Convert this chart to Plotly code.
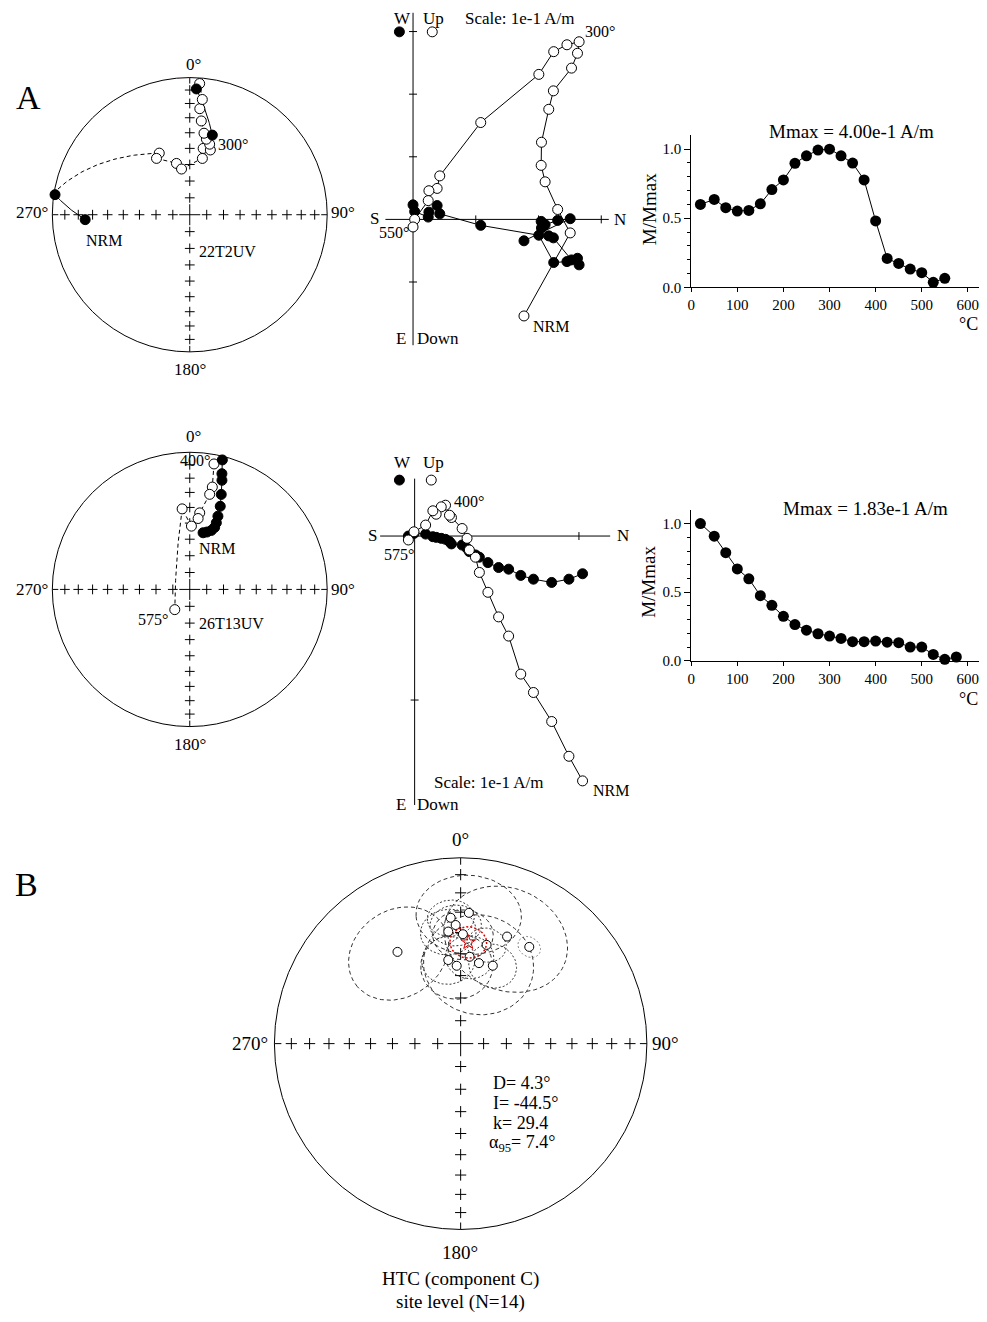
import math
import numpy as np
import plotly.graph_objects as go

# page is 987x1322; the html body keeps an 8px margin, so the figure is 16px smaller
PAGE_W, PAGE_H = 987, 1322
OFF = 8
FW, FH = PAGE_W - 2 * OFF, PAGE_H - 2 * OFF
SERIF = "Liberation Serif, Times New Roman, serif"

# ======================= DATA =======================
# ---- Panel A, specimen 22T2UV : directions (declination, inclination in deg)
a1_dec = [267.3, 278.5, 333.7, 329.5, 345.5, 349.8, 12.6, 11.4, 17.6, 15.7, 12.4, 9.9,
          7.0, 5.4, 6.2, 4.3, 3.0, 15.8]
a1_inc = [24.8, 1.0, -48.5, -50.6, -58.3, -62.3, -55.4, -49.2, -49.0, -45.6, -43.0, -39.5,
          -31.7, -23.4, -16.6, -4.6, 9.0, 39.5]
a1_name = "22T2UV"
# ---- 22T2UV : orthogonal vector components (A/m)
a1_north = [0.1768, 0.2505, 0.2305, 0.2105, 0.2042, 0.2047, 0.2163, 0.2237, 0.2526, 0.2621, 0.2647,
            0.2453, 0.2242, 0.2005, 0.1079, 0.0426, 0.0384, 0.0253, 0.0242, 0.0026, 0.0000]
a1_up = [-0.1542, -0.0216, 0.0158, 0.0600, 0.0863, 0.1232, 0.1758, 0.2053, 0.2416, 0.2653, 0.2837,
         0.2789, 0.2679, 0.2316, 0.1547, 0.0695, 0.0495, 0.0458, 0.0300, 0.0000, -0.0121]
a1_west = [-0.0342, 0.0011, -0.0016, -0.0084, -0.0032, -0.0137, -0.0263, -0.0295, -0.0647, -0.0621, -0.0726,
           -0.0674, -0.0689, -0.0253, -0.0095, 0.0089, 0.0221, 0.0116, 0.0037, 0.0126, 0.0232]
# ---- 22T2UV : thermal demagnetisation
a1_temp = [20, 50, 75, 100, 125, 150, 175, 200, 225, 250, 275, 300, 325, 350, 375, 400, 425, 450,
           475, 500, 525, 550]
a1_mnorm = [0.600, 0.636, 0.576, 0.552, 0.556, 0.604, 0.707, 0.777, 0.897, 0.952, 0.993, 1.000, 0.952,
            0.899, 0.777, 0.480, 0.209, 0.173, 0.132, 0.106, 0.036, 0.065]
a1_mmax = "4.00e-1"

# ---- Panel A, specimen 26T13UV : directions
a2_dec = [13.2, 16.7, 20.1, 21.8, 21.7, 21.0, 20.1, 18.3, 16.4, 15.5, 14.1, 10.9, 12.4, 11.8, 7.4,
          6.7, 1.5, 354.6, 216.5]
a2_inc = [55.1, 54.0, 52.2, 49.7, 46.6, 42.3, 35.7, 27.9, 18.2, 13.5, 3.0, -7.6, -24.6, -29.9, -43.1,
          -46.8, -51.9, -40.7, -75.1]
a2_name = "26T13UV"
# ---- 26T13UV : orthogonal vector components (A/m)
a2_north = [0.1022, 0.0939, 0.0834, 0.0723, 0.0646, 0.0572, 0.0511, 0.0446, 0.0394, 0.0370, 0.0333,
            0.0319, 0.0289, 0.0224, 0.0212, 0.0188, 0.0162, 0.0131, 0.0111, 0.0067, -0.0004, -0.0038]
a2_up = [-0.1493, -0.1343, -0.1131, -0.0954, -0.0842, -0.0610, -0.0493, -0.0343, -0.0222, -0.0129, -0.0085,
         -0.0014, 0.0046, 0.0113, 0.0127, 0.0188, 0.0178, 0.0133, 0.0154, 0.0067, 0.0026, -0.0024]
a2_west = [-0.0230, -0.0263, -0.0283, -0.0263, -0.0240, -0.0202, -0.0192, -0.0162, -0.0129, -0.0115, -0.0095,
           -0.0075, -0.0055, -0.0048, -0.0034, -0.0020, -0.0014, -0.0008, -0.0004, 0.0012, 0.0016, 0.0000]
# ---- 26T13UV : thermal demagnetisation
a2_temp = [20, 50, 75, 100, 125, 150, 175, 200, 225, 250, 275, 300, 325, 350, 375, 400, 425, 450,
           475, 500, 525, 550, 575]
a2_mnorm = [1.000, 0.908, 0.788, 0.670, 0.598, 0.475, 0.405, 0.325, 0.265, 0.224, 0.198, 0.181, 0.164,
            0.140, 0.140, 0.145, 0.137, 0.133, 0.101, 0.101, 0.048, 0.012, 0.029]
a2_mmax = "1.83e-1"

# ---- Panel B : HTC (component C) site level
b_dec = [325.5, 355.5, 3.6, 357.6, 353.7, 1.2, 23.4, 14.7, 35.3, 5.9, 351.6, 357.1, 12.8, 22.4]
b_inc = [-39.9, -32.6, -30.2, -36.3, -39.2, -40.8, -37.3, -44.3, -36.4, -51.2, -52.5, -55.5, -53.4, -52.6]
b_a95 = [21, 9, 20, 10, 11, 12, 25, 8, 4.7, 10, 11, 15, 23, 10]
b_mean_dec, b_mean_inc, b_mean_k, b_mean_a95 = 4.3, -44.5, 29.4, 7.4
b_n = 14

# ======================= HELPERS =======================
fig = go.Figure()
layout_axes = {}
shapes = []
annotations = []
count = [0]


def fx(p):
    return (p - OFF) / FW


def fy(p):
    return 1 - (p - OFF) / FH


def new_axes(x0, x1, y0, y1, xr, yr):
    count[0] += 1
    s = "" if count[0] == 1 else str(count[0])
    xa = dict(domain=[max(0, fx(x0)), min(1, fx(x1))], range=xr, anchor="y" + s, visible=False, fixedrange=True)
    ya = dict(domain=[max(0, fy(y1)), min(1, fy(y0))], range=yr, anchor="x" + s, visible=False, fixedrange=True)
    layout_axes["xaxis" + s] = xa
    layout_axes["yaxis" + s] = ya
    return "x" + s, "y" + s, xa, ya


def text(s, x, y, size=17, xanchor="center", yanchor="middle", angle=0, color="black"):
    annotations.append(dict(text=s, x=fx(x), y=fy(y), xref="paper", yref="paper", showarrow=False,
                            xanchor=xanchor, yanchor=yanchor, textangle=angle, borderpad=0,
                            font=dict(size=size, family=SERIF, color=color)))


def eq_r(inc):
    return math.sqrt(2) * math.sin(math.radians(90 - abs(inc)) / 2)


def d2v(d, i):
    d, i = math.radians(d), math.radians(i)
    return np.array([math.cos(i) * math.cos(d), math.cos(i) * math.sin(d), math.sin(i)])


def v2xy(v):
    v = v / np.linalg.norm(v)
    inc = math.degrees(math.asin(max(-1.0, min(1.0, v[2]))))
    dec = math.atan2(v[1], v[0])
    r = eq_r(inc)
    return r * math.sin(dec), r * math.cos(dec), v[2] >= 0


def gc_arc(d1, i1, d2, i2, n=40):
    v1, v2 = d2v(d1, i1), d2v(d2, i2)
    om = math.acos(max(-1.0, min(1.0, float(np.dot(v1, v2)))))
    if om < 1e-6:
        return [v2xy(v1), v2xy(v2)]
    out = []
    for t in np.linspace(0, 1, n):
        v = (math.sin((1 - t) * om) * v1 + math.sin(t * om) * v2) / math.sin(om)
        out.append(v2xy(v))
    return out


def small_circle(d, i, a, n=90):
    v = d2v(d, abs(i))
    k = np.array([0.0, 0.0, 1.0])
    u1 = np.cross(v, k)
    if np.linalg.norm(u1) < 1e-6:
        u1 = np.array([1.0, 0.0, 0.0])
    u1 = u1 / np.linalg.norm(u1)
    u2 = np.cross(v, u1)
    ar = math.radians(a)
    xs, ys = [], []
    for t in np.linspace(0, 2 * math.pi, n):
        p = math.cos(ar) * v + math.sin(ar) * (math.cos(t) * u1 + math.sin(t) * u2)
        x, y, _ = v2xy(p)
        xs.append(x)
        ys.append(y)
    return xs, ys


def stereonet_frame(cx, cy, R, cross=7, ccross=15, tick=6):
    pad = 1.25
    xa, ya, _, _ = new_axes(cx - pad * R, cx + pad * R, cy - pad * R, cy + pad * R, [-pad, pad], [-pad, pad])
    shapes.append(dict(type="circle", xref=xa, yref=ya, x0=-1, x1=1, y0=-1, y1=1, layer="below",
                       line=dict(color="black", width=1)))
    rr = [eq_r(v) for v in range(10, 90, 10)]
    xs = rr + [-r for r in rr] + [0] * len(rr) * 2
    ys = [0] * len(rr) * 2 + rr + [-r for r in rr]
    fig.add_trace(go.Scatter(x=xs, y=ys, xaxis=xa, yaxis=ya, mode="markers", hoverinfo="skip",
                             showlegend=False, marker=dict(symbol="cross-thin", size=cross,
                                                           line=dict(width=1, color="black"))))
    fig.add_trace(go.Scatter(x=[0], y=[0], xaxis=xa, yaxis=ya, mode="markers", hoverinfo="skip",
                             showlegend=False, marker=dict(symbol="cross-thin", size=ccross,
                                                           line=dict(width=1, color="black"))))
    t = tick / R
    for (x0, y0, x1, y1) in [(0, 1, 0, 1 - t), (0, -1, 0, -1 + t), (1, 0, 1 - t, 0), (-1, 0, -1 + t, 0)]:
        shapes.append(dict(type="line", xref=xa, yref=ya, x0=x0, y0=y0, x1=x1, y1=y1, layer="below",
                           line=dict(color="black", width=1)))
    return xa, ya


def stereo_path(xa, ya, dec, inc, ms=10):
    solid_x, solid_y, dash_x, dash_y = [], [], [], []
    for k in range(len(dec) - 1):
        pts = gc_arc(dec[k], inc[k], dec[k + 1], inc[k + 1])
        runs = []
        cur_style, cur = None, []
        for p, q in zip(pts[:-1], pts[1:]):
            style = "solid" if (p[2] and q[2]) else "dash"
            if style != cur_style:
                if cur:
                    runs.append((cur_style, cur))
                cur_style, cur = style, [p, q]
            else:
                cur.append(q)
        if cur:
            runs.append((cur_style, cur))
        for style, run in runs:
            tx = solid_x if style == "solid" else dash_x
            ty = solid_y if style == "solid" else dash_y
            tx.extend([p[0] for p in run] + [None])
            ty.extend([p[1] for p in run] + [None])
    fig.add_trace(go.Scatter(x=solid_x, y=solid_y, xaxis=xa, yaxis=ya, mode="lines", hoverinfo="skip",
                             showlegend=False, line=dict(color="black", width=1)))
    fig.add_trace(go.Scatter(x=dash_x, y=dash_y, xaxis=xa, yaxis=ya, mode="lines", hoverinfo="skip",
                             showlegend=False, line=dict(color="black", width=1, dash="4px,3px")))
    stereo_points(xa, ya, dec, inc, ms)


def stereo_points(xa, ya, dec, inc, ms=10):
    ox, oy, fxs, fys = [], [], [], []
    for d, i in zip(dec, inc):
        r = eq_r(i)
        x, y = r * math.sin(math.radians(d)), r * math.cos(math.radians(d))
        if i < 0:
            ox.append(x)
            oy.append(y)
        else:
            fxs.append(x)
            fys.append(y)
    fig.add_trace(go.Scatter(x=ox, y=oy, xaxis=xa, yaxis=ya, mode="markers", showlegend=False, cliponaxis=False,
                             marker=dict(size=ms, color="white", line=dict(color="black", width=1))))
    fig.add_trace(go.Scatter(x=fxs, y=fys, xaxis=xa, yaxis=ya, mode="markers", showlegend=False, cliponaxis=False,
                             marker=dict(size=ms, color="black", line=dict(color="black", width=1))))


def zijderveld(ox, oy, upx, box, n_ext, v_ext, n_ticks, v_ticks, north, up, west, ms=10):
    x0, x1, y0, y1 = box
    xr = [(x0 - ox) / upx, (x1 - ox) / upx]
    yr = [(oy - y1) / upx, (oy - y0) / upx]
    xa, ya, _, _ = new_axes(x0, x1, y0, y1, xr, yr)
    ln = dict(color="black", width=1)
    shapes.append(dict(type="line", xref=xa, yref=ya, x0=n_ext[0], x1=n_ext[1], y0=0, y1=0, layer="below", line=ln))
    shapes.append(dict(type="line", xref=xa, yref=ya, x0=0, x1=0, y0=v_ext[0], y1=v_ext[1], layer="below", line=ln))
    t = 4 / upx
    for n in n_ticks:
        shapes.append(dict(type="line", xref=xa, yref=ya, x0=n, x1=n, y0=-t, y1=t, layer="below", line=ln))
    for v in v_ticks:
        shapes.append(dict(type="line", xref=xa, yref=ya, x0=-t, x1=t, y0=v, y1=v, layer="below", line=ln))
    fig.add_trace(go.Scatter(x=north, y=west, xaxis=xa, yaxis=ya, mode="lines+markers", showlegend=False,
                             cliponaxis=False, line=dict(color="black", width=1),
                             marker=dict(size=ms, color="black", line=dict(color="black", width=1))))
    fig.add_trace(go.Scatter(x=north, y=up, xaxis=xa, yaxis=ya, mode="lines+markers", showlegend=False,
                             cliponaxis=False, line=dict(color="black", width=1),
                             marker=dict(size=ms, color="white", line=dict(color="black", width=1))))
    return xa, ya


def key_glyph(x, y, filled, r=5):
    shapes.append(dict(type="circle", xref="paper", yref="paper", x0=fx(x - r), x1=fx(x + r),
                       y0=fy(y + r), y1=fy(y - r), fillcolor="black" if filled else "white",
                       line=dict(color="black", width=1), layer="above"))


def demag(zero_py, unit_py, temps, vals):
    x0, x1 = 690, OFF + FW
    ytop = 1.1
    xa, ya, xd, yd = new_axes(x0, x1, zero_py - ytop * unit_py, zero_py, [0, (x1 - x0) / 0.463], [0, ytop])
    common = dict(visible=True, showline=True, linecolor="black", linewidth=1, ticks="outside",
                  tickcolor="black", tickwidth=1, showgrid=False, zeroline=False, ticklabeloverflow="allow",
                  tickfont=dict(size=15, family=SERIF, color="black"))
    xd.update(common)
    xd.update(tickmode="array", tickvals=[0, 100, 200, 300, 400, 500, 600], ticklen=4)
    yd.update(common)
    yd.update(tickmode="array", tickvals=[0, 0.5, 1.0], ticktext=["0.0", "0.5", "1.0"], ticklen=6,
              minor=dict(tickmode="array", tickvals=[0.1, 0.2, 0.3, 0.4, 0.6, 0.7, 0.8, 0.9],
                         ticks="outside", ticklen=3, tickcolor="black", tickwidth=1, showgrid=False))
    fig.add_trace(go.Scatter(x=temps, y=vals, xaxis=xa, yaxis=ya, mode="lines+markers", showlegend=False,
                             cliponaxis=False, line=dict(color="black", width=1),
                             marker=dict(size=11, color="black")))


# ======================= PANEL A : row 1 =======================
text("A", 25, 98, size=34)
xa, ya = stereonet_frame(186.5, 216, 138)
stereo_path(xa, ya, a1_dec, a1_inc, ms=10)
text("0°", 190, 65)
text("270°", 28, 214)
text("90°", 340, 214)
text("180°", 187, 372)
text("NRM", 100, 242, size=16)
text("300°", 230, 145, size=16)
text(a1_name, 224, 253, size=16)

zijderveld(410.7, 220.7, 630, (372, 630, 10, 352), (-0.044, 0.312), (-0.201, 0.33),
           [0.1, 0.2, 0.3], [-0.1, 0.1, 0.2, 0.3], a1_north, a1_up, a1_west)
key_glyph(397, 32, True)
key_glyph(430, 32, False)
text("W", 400, 8, size=17, yanchor="top")
text("Up", 431, 8, size=17, yanchor="top")
text("Scale: 1e-1 A/m", 518, 8, size=17, yanchor="top")
text("S", 372, 220)
text("N", 619, 221)
text("E", 399, 341)
text("Down", 436, 341)
text("300°", 598, 32, size=16)
text("550°", 392, 234, size=16)
text("NRM", 549, 328, size=16)

demag(289, 139, a1_temp, a1_mnorm)
text("Mmax = %s A/m" % a1_mmax, 851, 132, size=19)
text("M/Mmax", 648, 210, size=19, angle=-90)
text("°C", OFF + FW, 326, size=18, xanchor="right")

# ======================= PANEL A : row 2 =======================
xa, ya = stereonet_frame(186.5, 593, 138)
stereo_path(xa, ya, a2_dec, a2_inc, ms=10)
text("0°", 190, 439)
text("270°", 28, 593)
text("90°", 340, 593)
text("180°", 187, 749)
text("400°", 192, 463, size=16)
text("NRM", 214, 552, size=16)
text("575°", 150, 623, size=16)
text(a2_name, 228, 627, size=16)

zijderveld(412.3, 539.3, 1650, (372, 630, 455, 815), (-0.021, 0.119), (-0.164, 0.035),
           [0.1], [-0.1], a2_north, a2_up, a2_west)
key_glyph(397, 483, True)
key_glyph(429, 483, False)
text("W", 400, 465)
text("Up", 431, 465)
text("S", 370, 539)
text("N", 622, 539)
text("E", 399, 809)
text("Down", 436, 809)
text("Scale: 1e-1 A/m", 487, 787)
text("400°", 467, 505, size=16)
text("575°", 397, 558, size=16)
text("NRM", 609, 795, size=16)

demag(665, 138.3, a2_temp, a2_mnorm)
text("Mmax = %s A/m" % a2_mmax, 865, 512, size=19)
text("M/Mmax", 647, 585, size=19, angle=-90)
text("°C", OFF + FW, 703, size=18, xanchor="right")

# ======================= PANEL B =======================
text("B", 23, 890, size=34)
xa, ya = stereonet_frame(458.5, 1050, 187, cross=8, ccross=18, tick=7)
for d, i, a in zip(b_dec, b_inc, b_a95):
    cx_, cy_ = small_circle(d, i, a)
    big = a >= 12
    col = "#888888" if a < 6 else "#333333"
    fig.add_trace(go.Scatter(x=cx_, y=cy_, xaxis=xa, yaxis=ya, mode="lines", hoverinfo="skip", showlegend=False,
                             line=dict(color=col, width=1, dash="4px,3px" if big else "2px,2px")))
stereo_points(xa, ya, b_dec, b_inc, ms=9)
mx, my = small_circle(b_mean_dec, b_mean_inc, b_mean_a95)
fig.add_trace(go.Scatter(x=mx, y=my, xaxis=xa, yaxis=ya, mode="lines", hoverinfo="skip", showlegend=False,
                         line=dict(color="#e00000", width=1.5, dash="2px,2px")))
rm = eq_r(b_mean_inc)
fig.add_trace(go.Scatter(x=[rm * math.sin(math.radians(b_mean_dec))], y=[rm * math.cos(math.radians(b_mean_dec))],
                         xaxis=xa, yaxis=ya, mode="markers", showlegend=False,
                         marker=dict(symbol="star-open", size=11, color="#e00000", line=dict(width=1))))
text("0°", 458, 845, size=19)
text("270°", 247, 1050, size=19)
text("90°", 664, 1050, size=19)
text("180°", 458, 1260, size=19)
text("HTC (component C)", 458, 1287, size=19)
text("site level (N=%d)" % b_n, 458, 1310, size=19)
text("D= %.1f°" % b_mean_dec, 490, 1090, size=18, xanchor="left")
text("I= %.1f°" % b_mean_inc, 490, 1110, size=18, xanchor="left")
text("k= %.1f" % b_mean_k, 490, 1130, size=18, xanchor="left")
text("α<sub>95</sub>= %.1f°" % b_mean_a95, 486, 1150, size=18, xanchor="left")

fig.update_layout(width=FW, height=FH, margin=dict(l=0, r=0, t=0, b=0), autosize=False,
                  paper_bgcolor="white", plot_bgcolor="rgba(0,0,0,0)",
                  font=dict(family=SERIF, color="black"), showlegend=False,
                  shapes=shapes, annotations=annotations, **layout_axes)
fig.write_html("out.html")
